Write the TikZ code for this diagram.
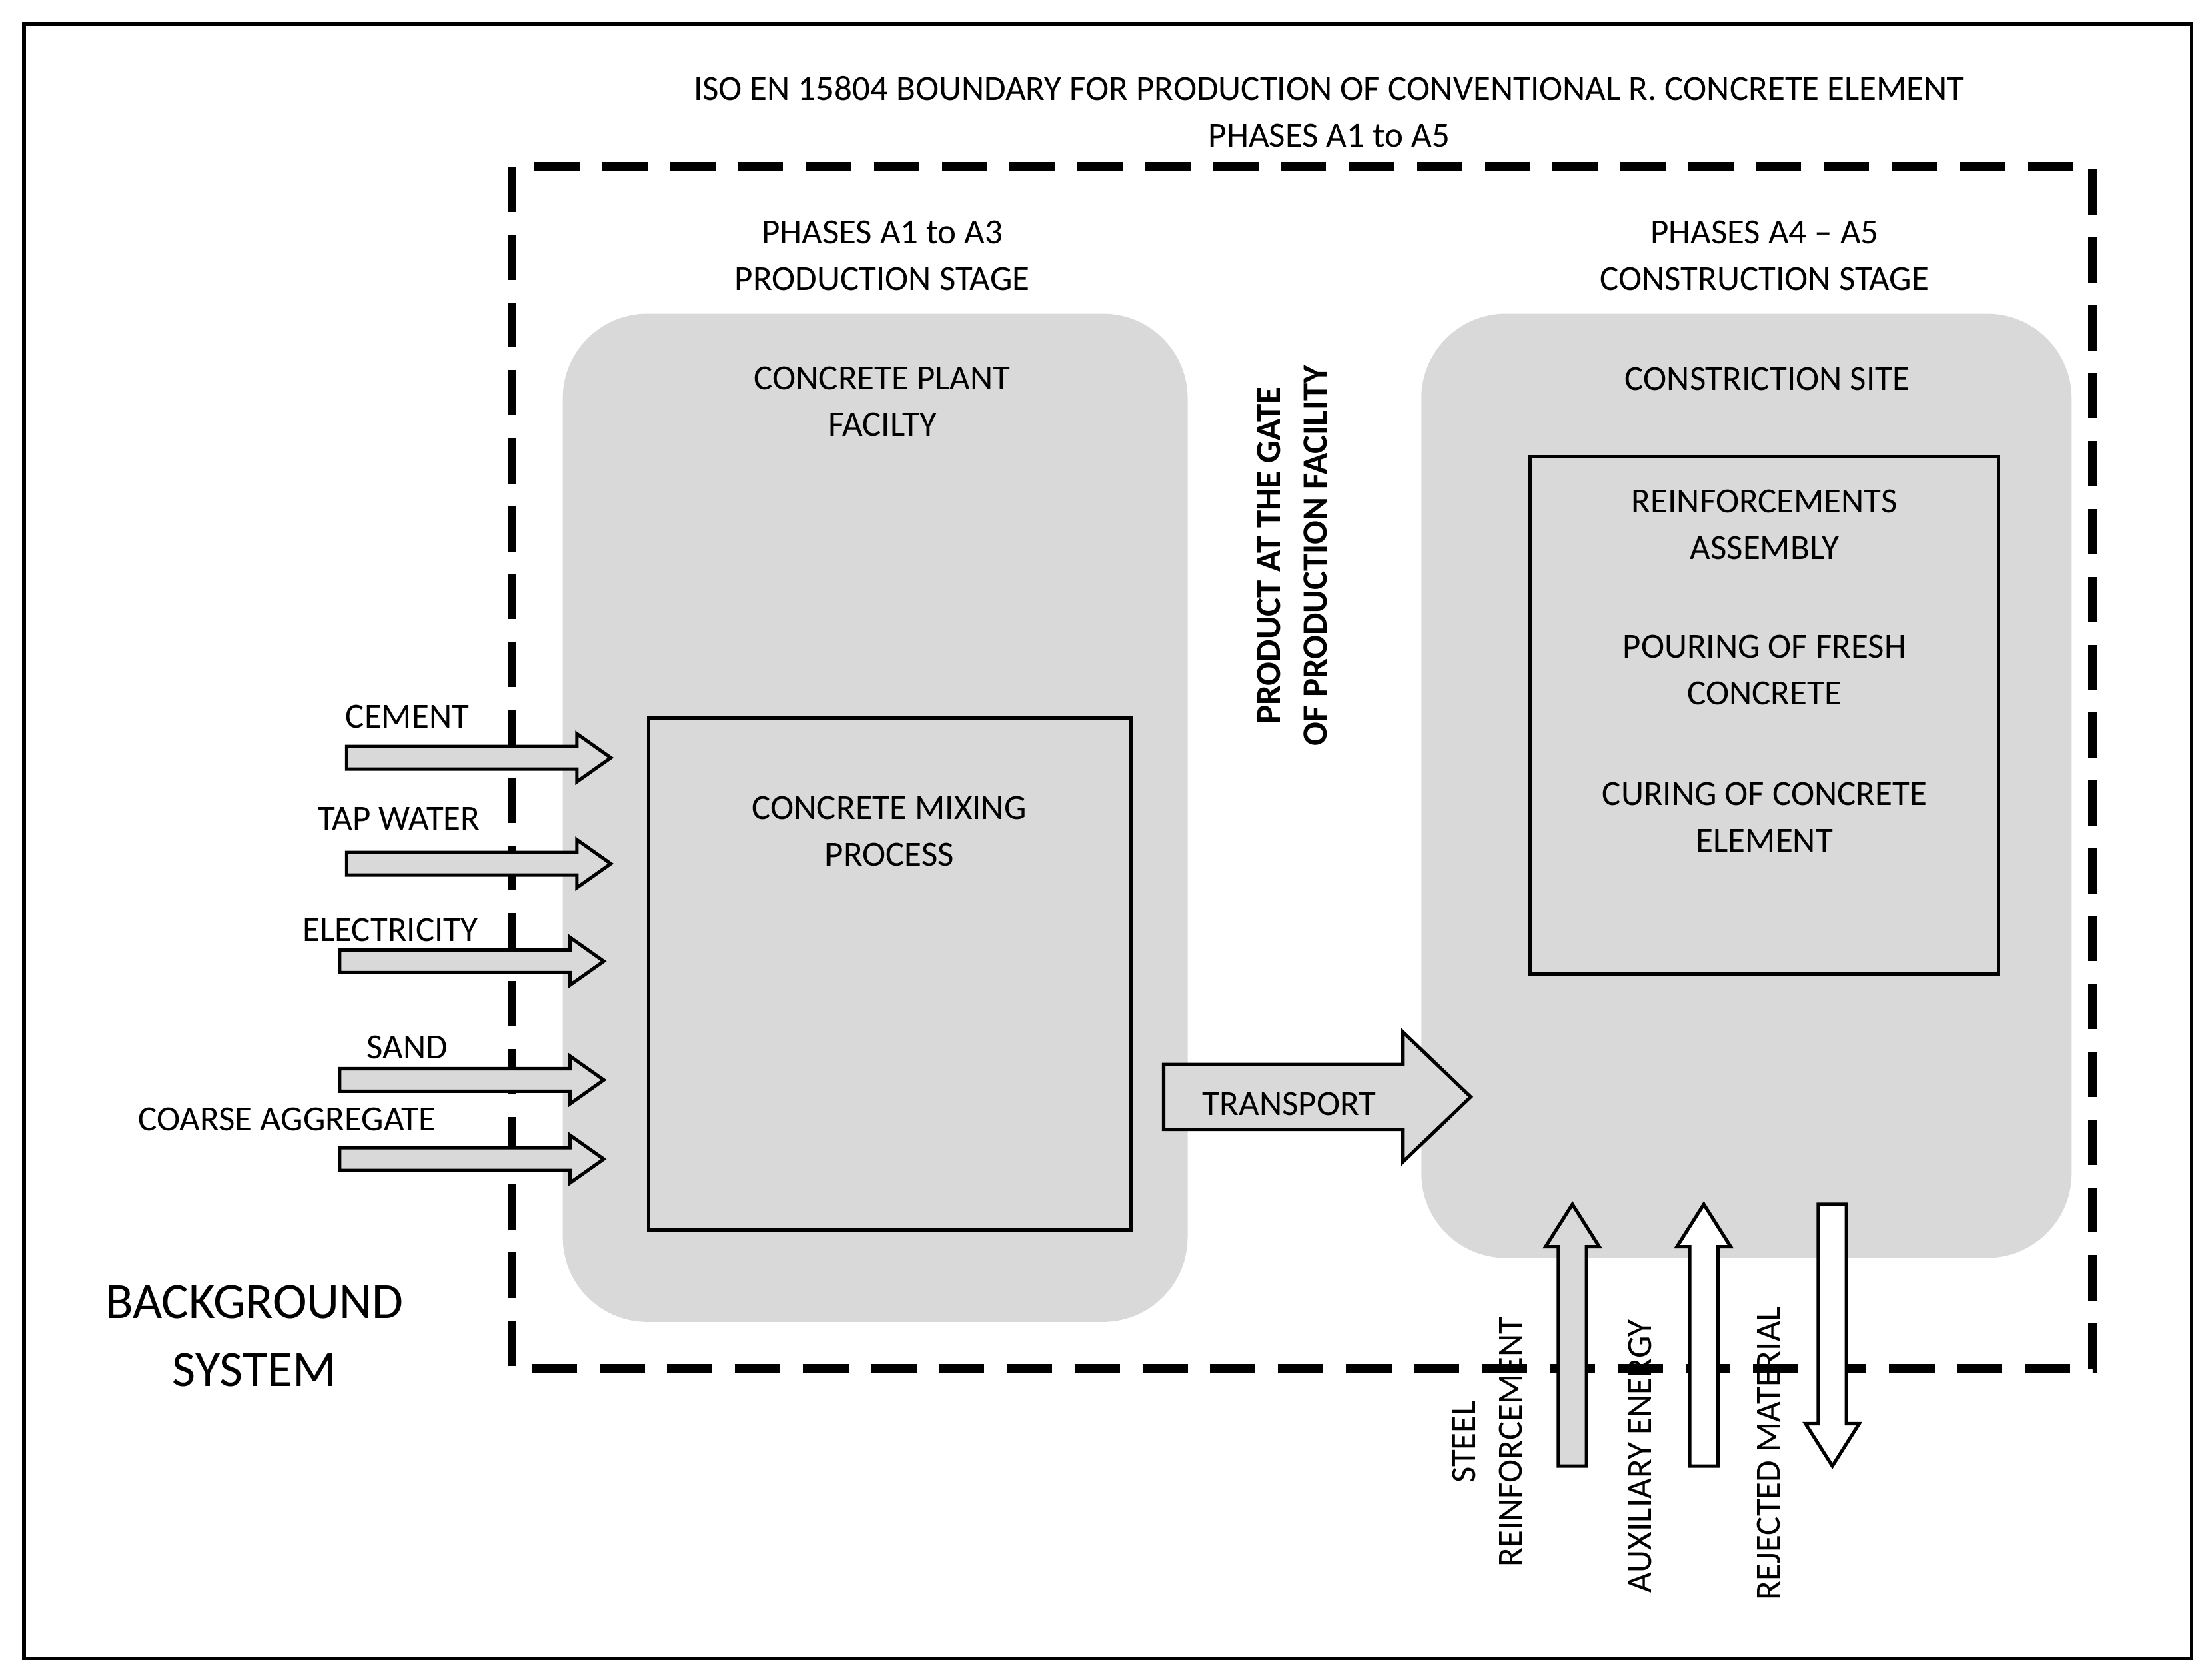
\documentclass[tikz,border=0pt]{standalone}
\usepackage{fontspec}
\setmainfont{Carlito}
\definecolor{boxgray}{HTML}{D9D9D9}
\newcommand\rarrow[7]{% x1 x2 y bodyhalf headhalf headlen fill
  \draw[line width=1.2pt,fill=#7] (#1,#3-#4) -- (#2-#6,#3-#4) -- (#2-#6,#3-#5) -- (#2,#3) -- (#2-#6,#3+#5) -- (#2-#6,#3+#4) -- (#1,#3+#4) -- cycle;}
\newcommand\uarrow[7]{% x y1(bottom) y2(tip) bodyhalf headhalf headlen fill ; tip at y2
  \draw[line width=1.2pt,fill=#7] (#1-#4,#2) -- (#1-#4,#3+#6) -- (#1-#5,#3+#6) -- (#1,#3) -- (#1+#5,#3+#6) -- (#1+#4,#3+#6) -- (#1+#4,#2) -- cycle;}
\newcommand\darrow[7]{% x y1(top) y2(tip)
  \draw[line width=1.2pt,fill=#7] (#1-#4,#2) -- (#1-#4,#3-#6) -- (#1-#5,#3-#6) -- (#1,#3) -- (#1+#5,#3-#6) -- (#1+#4,#3-#6) -- (#1+#4,#2) -- cycle;}
\begin{document}
\begin{tikzpicture}[x=0.5pt,y=-0.5pt,
  txt/.style={font=\fontsize{12.5}{16.5}\selectfont,align=center,inner sep=0pt},
  gbox/.style={fill=boxgray,draw=none,rounded corners=30pt},
  ibox/.style={draw,line width=1.2pt}]
\useasboundingbox (0,0) rectangle (1563,1188);
\draw[line width=1.2pt] (17,17) rectangle (1550,1173);
\node[txt] (title) at (940,79) {ISO EN 15804 BOUNDARY FOR PRODUCTION OF CONVENTIONAL R. CONCRETE ELEMENT\\PHASES A1 to A5};
\fill[gbox] (398,222) rectangle (840,935);
\fill[gbox] (1005,222) rectangle (1465,890);
\draw[line width=3.2pt,dash pattern=on 16pt off 8pt] (362,118) rectangle (1480,968);
\draw[ibox,fill=boxgray] (459,508) rectangle (800,870);
\draw[ibox,fill=boxgray] (1082,323) rectangle (1413,689);
\node[txt] (p13) at (624,181) {PHASES A1 to A3\\PRODUCTION STAGE};
\node[txt] (p45) at (1248,181) {PHASES A4 -- A5\\CONSTRUCTION STAGE};
\node[txt] (plant) at (624,284) {CONCRETE PLANT\\FACILTY};
\node[txt] (site) at (1250,268) {CONSTRICTION SITE};
\node[txt] (mix) at (629,588) {CONCRETE MIXING\\PROCESS};
\node[txt] (r1) at (1248,371) {REINFORCEMENTS\\ASSEMBLY};
\node[txt] (r2) at (1248,474) {POURING OF FRESH\\CONCRETE};
\node[txt] (r3) at (1248,578) {CURING OF CONCRETE\\ELEMENT};
\node[txt,font=\fontsize{12.5}{16.5}\selectfont\bfseries,rotate=90] (gate) at (914,393) {PRODUCT AT THE GATE\\OF PRODUCTION FACILITY};
\node[txt,font=\fontsize{18}{24}\selectfont] (bg) at (180,945) {BACKGROUND\\SYSTEM};
% input arrows
\rarrow{245}{432}{536}{8}{17}{24}{boxgray}
\rarrow{245}{432}{611}{8}{17}{24}{boxgray}
\rarrow{240}{427}{680}{8}{17}{24}{boxgray}
\rarrow{240}{427}{764}{8}{17}{24}{boxgray}
\rarrow{240}{427}{820}{8}{17}{24}{boxgray}
\node[txt] (cem) at (288,507) {CEMENT};
\node[txt] (tap) at (282,579) {TAP WATER};
\node[txt] (ele) at (276,658) {ELECTRICITY};
\node[txt] (sand) at (288,741) {SAND};
\node[txt] (coarse) at (203,792) {COARSE AGGREGATE};
% transport
\rarrow{823}{1040}{776}{23}{46}{48}{boxgray}
\node[txt] (tr) at (912,781) {TRANSPORT};
% vertical
\uarrow{1112}{1037}{852}{10}{19}{30}{boxgray}
\uarrow{1205}{1037}{852}{10}{19}{30}{white}
\darrow{1296}{852}{1037}{10}{19}{30}{white}
\node[txt,rotate=90] (steel) at (1052,1020) {STEEL\\REINFORCEMENT};
\node[txt,rotate=90] (aux) at (1160,1030) {AUXILIARY ENERGY};
\node[txt,rotate=90] (rej) at (1251,1028) {REJECTED MATERIAL};
\end{tikzpicture}
\end{document}
